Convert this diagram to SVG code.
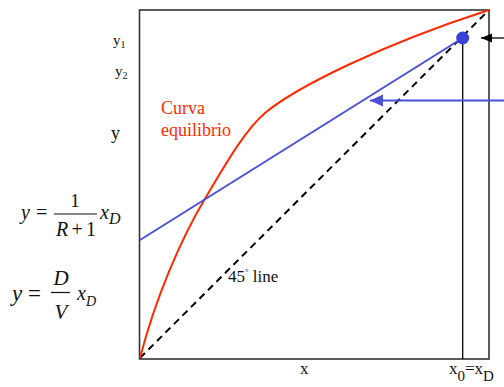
<svg xmlns="http://www.w3.org/2000/svg" width="504" height="387" viewBox="0 0 504 387">
<style>
.t{fill:#111}
.it{font-style:italic}
.red{fill:#ff2a00}
</style>
<defs>
<marker id="ab" markerWidth="12" markerHeight="10" refX="11" refY="4.5" orient="auto" markerUnits="userSpaceOnUse"><path d="M0,0 L11,4.5 L0,9 Z" fill="#000"/></marker>
<marker id="abl" markerWidth="14" markerHeight="13" refX="13" refY="6" orient="auto" markerUnits="userSpaceOnUse"><path d="M0,0 L13,6 L0,12 Z" fill="#4a50d8"/></marker>
</defs>
<rect width="504" height="387" fill="#fff"/>
<g id="frame"><rect x="139.5" y="10" width="349.5" height="349" fill="none" stroke="#333" stroke-width="1.6"/></g>
<g id="connectors">
<line x1="140" y1="358" x2="489" y2="10" stroke="#000" stroke-width="2" stroke-dasharray="7,5"/>
<path d="M140,358 C155,300 180,240 206,197 C225,165 245,130 265,113 C295,88 380,45 489,10" fill="none" stroke="#ff2a00" stroke-width="2"/>
<line x1="140" y1="240" x2="462.7" y2="38" stroke="#4a50d8" stroke-width="2"/>
<line x1="462.7" y1="38" x2="462.7" y2="359" stroke="#000" stroke-width="1.3"/>
<line x1="504" y1="38" x2="481" y2="38" stroke="#000" stroke-width="1.3" marker-end="url(#ab)"/>
<line x1="504" y1="100.5" x2="370" y2="100.5" stroke="#4a50d8" stroke-width="2" marker-end="url(#abl)"/>
</g>
<g id="dot"><circle cx="462.7" cy="38" r="6.5" fill="#3d42d6"/></g>
<g id="labels" font-family="Liberation Serif, Times New Roman, serif">
<text class="t" x="113" y="45" font-size="15">y<tspan font-size="10" dy="3">1</tspan></text>
<text class="t" x="115" y="76" font-size="15">y<tspan font-size="10" dy="3">2</tspan></text>
<text class="t" x="111" y="139" font-size="18">y</text>
<text class="t red" x="161" y="114" font-size="18">Curva</text>
<text class="t red" x="161" y="136" font-size="18">equilibrio</text>
<text class="t" x="228" y="282" font-size="17">45<tspan font-size="9" dy="-7">°</tspan><tspan dy="7"> line</tspan></text>
<text class="t" x="300" y="374" font-size="17">x</text>
<text class="t" x="449" y="374" font-size="17">x<tspan font-size="15" dy="7">0</tspan><tspan dy="-7">=x</tspan><tspan font-size="15" dy="7">D</tspan></text>
</g>
<g id="eq1" font-family="Liberation Serif, Times New Roman, serif">
<text class="t it" x="21" y="219" font-size="20">y</text>
<text class="t" x="36" y="219" font-size="20">=</text>
<text class="t" x="75" y="207" font-size="19" text-anchor="middle">1</text>
<line x1="54" y1="214" x2="97" y2="214" stroke="#111" stroke-width="1.2"/>
<text class="t it" x="56" y="236" font-size="20">R</text>
<text class="t" x="71.5" y="236" font-size="20">+</text>
<text class="t" x="86" y="236" font-size="20">1</text>
<text class="t it" x="100" y="219" font-size="20">x<tspan font-size="16" dy="5">D</tspan></text>
</g>
<g id="eq2" font-family="Liberation Serif, Times New Roman, serif">
<text class="t it" x="12" y="301" font-size="23">y</text>
<text class="t" x="28" y="301" font-size="23">=</text>
<text class="t it" x="61" y="285" font-size="21" text-anchor="middle">D</text>
<line x1="51" y1="292.5" x2="70" y2="292.5" stroke="#111" stroke-width="1.2"/>
<text class="t it" x="61" y="319" font-size="21" text-anchor="middle">V</text>
<text class="t it" x="77" y="300" font-size="20">x<tspan font-size="14" dy="6">D</tspan></text>
</g>
</svg>
